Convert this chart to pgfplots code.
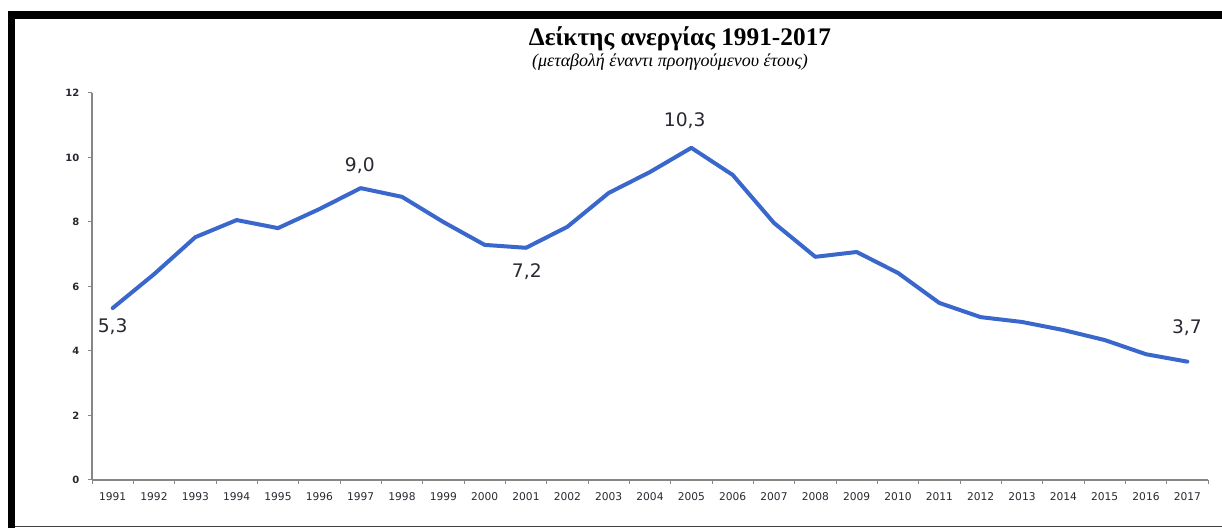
\documentclass[border=0pt]{standalone}
\usepackage{fontspec}
\setmainfont{DejaVu Sans}
\newfontfamily\titlefont{Liberation Serif}
\usepackage{pgfplots}
\pgfplotsset{compat=1.18}
\definecolor{lineblue}{RGB}{58,103,204}
\definecolor{axisgray}{RGB}{134,134,134}
\definecolor{labtext}{RGB}{40,40,50}
\pgfplotstableread{
x y
0 5.33
1 6.38
2 7.53
3 8.06
4 7.81
5 8.40
6 9.05
7 8.78
8 8.00
9 7.29
10 7.20
11 7.85
12 8.90
13 9.55
14 10.30
15 9.46
16 7.97
17 6.92
18 7.07
19 6.42
20 5.49
21 5.05
22 4.90
23 4.65
24 4.34
25 3.90
26 3.67
}\unemp
\begin{document}
\begin{tikzpicture}[x=0.75pt,y=0.75pt]
\path[use as bounding box] (0,0) rectangle (1222,528);
\fill[black] (8,509) rectangle (1222,517);
\fill[black] (8,0) rectangle (15,517);
\draw[black!75, line width=0.75pt] (15,1.4) -- (1222,1.4);
\node[font=\titlefont\bfseries\fontsize{19}{22}\selectfont] at (680,489) {Δείκτης ανεργίας 1991-2017};
\node[font=\titlefont\itshape\fontsize{13.5}{16}\selectfont] at (670,466) {(μεταβολή έναντι προηγούμενου έτους)};
\begin{axis}[
  at={(69pt,36pt)}, anchor=south west,
  width=837pt, height=290.25pt, scale only axis,
  xmin=-0.5, xmax=26.5, ymin=0, ymax=12,
  axis x line=bottom, axis y line=left,
  axis line style={axisgray, line width=1.5pt, -},
  xtick={0,...,26},
  xticklabels={1991,1992,1993,1994,1995,1996,1997,1998,1999,2000,2001,2002,2003,2004,2005,2006,2007,2008,2009,2010,2011,2012,2013,2014,2015,2016,2017},
  minor xtick={-0.5,0.5,...,26.5},
  ytick={0,2,...,12},
  tick align=outside,
  major tick length=3pt, minor tick length=3pt,
  major x tick style={draw=none},
  minor x tick style={axisgray, line width=0.75pt},
  y tick style={axisgray, line width=0.75pt},
  xticklabel style={font=\fontsize{8}{10}\selectfont, text=labtext, yshift=-3pt},
  yticklabel style={font=\bfseries\fontsize{7.5}{9}\selectfont, text=labtext, xshift=-3pt},
  /pgf/number format/assume math mode=true,
  clip=false,
]
\addplot[lineblue, line width=3pt, line join=round, line cap=round, mark=none] table[x=x,y=y] {\unemp};
\node[font=\fontsize{14}{16}\selectfont, text=labtext] at (axis cs:0,4.74) {5,3};
\node[font=\fontsize{14}{16}\selectfont, text=labtext] at (axis cs:5.98,9.74) {9,0};
\node[font=\fontsize{14}{16}\selectfont, text=labtext] at (axis cs:10.02,6.45) {7,2};
\node[font=\fontsize{14}{16}\selectfont, text=labtext] at (axis cs:13.84,11.13) {10,3};
\node[font=\fontsize{14}{16}\selectfont, text=labtext] at (axis cs:25.99,4.71) {3,7};
\end{axis}
\end{tikzpicture}
\end{document}
